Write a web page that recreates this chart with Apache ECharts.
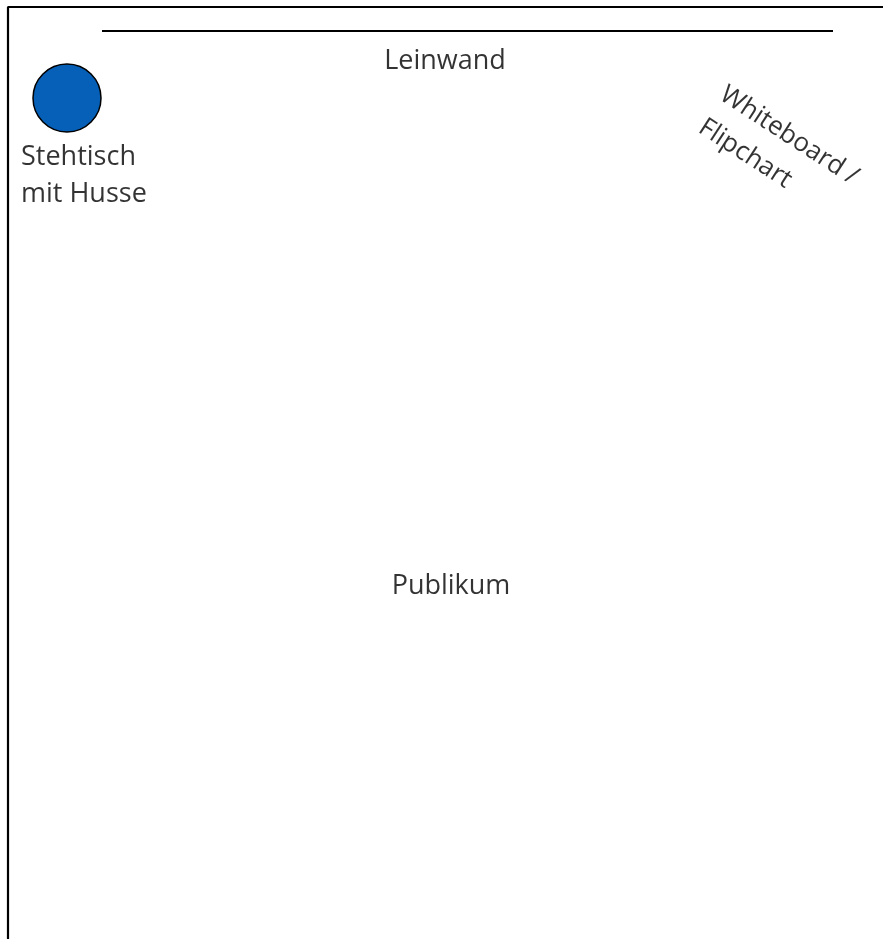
<!DOCTYPE html>
<html><head><meta charset="utf-8">
<script src="https://cdn.jsdelivr.net/npm/echarts@6/dist/echarts.min.js"></script>
<style>html,body{margin:0;padding:0;background:#fff}#c{width:883px;height:939px}</style>
</head><body><div id="c"></div>
<script>
// Room plan coordinates (pixel-like units of the plan)
const roomWall = [[8, 939], [8, 7], [883, 7]];
const screenLine = [[102, 31], [833, 31]];
const tablePos = [[67, 98]];
const tableSize = 68;
const centerLabels = [
  { name: 'Leinwand', value: [445, 61] },
  { name: 'Publikum', value: [451, 586] }
];
const leftLabels = [
  { name: 'Stehtisch\nmit Husse', value: [21, 176] }
];
const boardLabel = [
  { name: 'Whiteboard /\nFlipchart', value: [733, 76] }
];
const FONT = '"Open Sans", sans-serif';

const chart = echarts.init(document.getElementById('c'));
chart.setOption({
  animation: false,
  grid: { left: 0, right: 0, top: 0, bottom: 0 },
  xAxis: { type: 'value', min: 0, max: 883, show: false },
  yAxis: { type: 'value', min: 0, max: 939, inverse: true, show: false },
  series: [
    { type: 'line', data: roomWall, symbol: 'none', lineStyle: { color: '#000', width: 2.2 }, silent: true },
    { type: 'line', data: screenLine, symbol: 'none', lineStyle: { color: '#000', width: 2 }, silent: true },
    { type: 'scatter', data: tablePos, symbol: 'circle', symbolSize: tableSize,
      itemStyle: { color: '#0660B8', borderColor: '#000', borderWidth: 1.5, opacity: 1 } },
    { type: 'scatter', data: centerLabels, symbolSize: 0,
      label: { show: true, position: 'inside', formatter: p => p.name, color: '#000',
        textBorderWidth: 0, fontFamily: FONT, fontSize: 27 } },
    { type: 'scatter', data: leftLabels, symbolSize: 0,
      label: { show: true, position: 'inside', formatter: p => p.name, color: '#000',
        textBorderWidth: 0, fontFamily: FONT, fontSize: 27, align: 'left', verticalAlign: 'middle', lineHeight: 37 } },
    { type: 'scatter', data: boardLabel, symbolSize: 0,
      label: { show: true, position: 'inside', formatter: p => p.name, color: '#000',
        textBorderWidth: 0, fontFamily: FONT, fontSize: 26, align: 'left', verticalAlign: 'top', lineHeight: 39, rotate: -33 } }
  ]
});
</script></body></html>
